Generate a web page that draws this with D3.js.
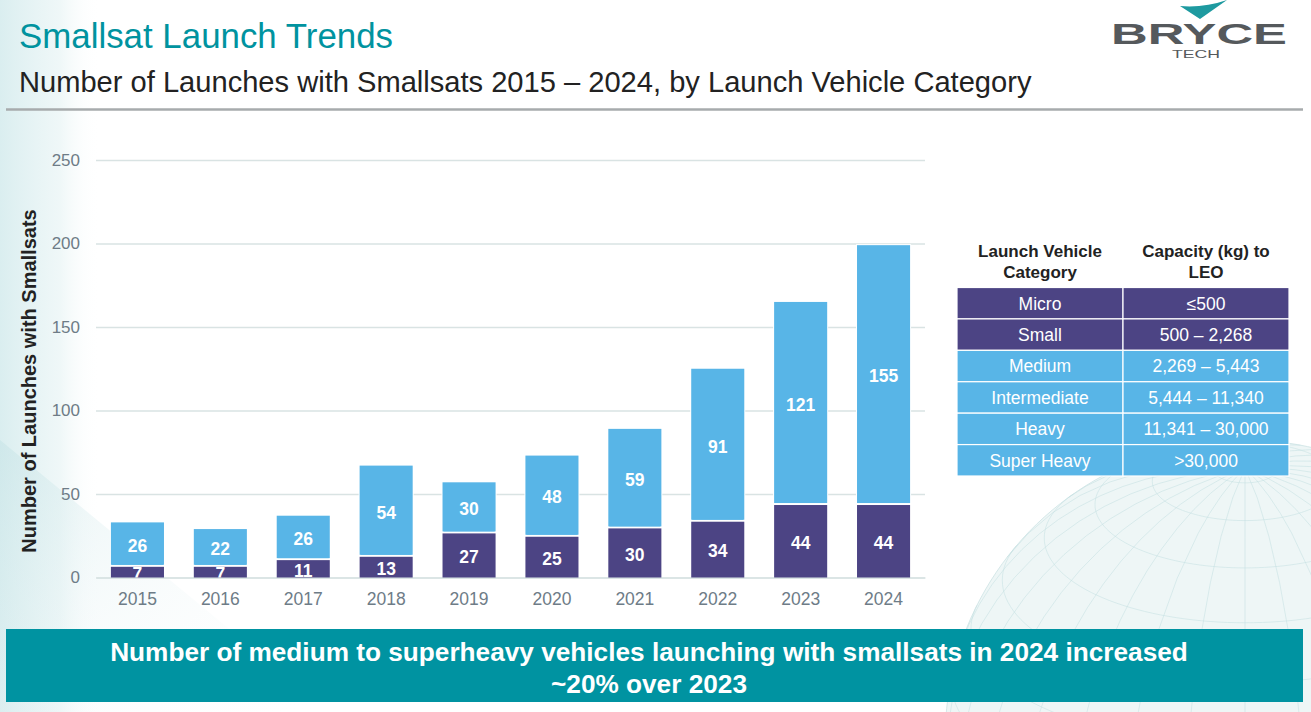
<!DOCTYPE html>
<html><head><meta charset="utf-8">
<script src="https://cdn.jsdelivr.net/npm/d3@7"></script>
<style>
html,body{margin:0;padding:0;background:#fff;overflow:hidden;}
svg{display:block;font-family:"Liberation Sans",Arial,sans-serif;}
</style></head>
<body>
<svg id="chart" width="1311" height="712"></svg>
<script>
// ---- data ----
const years = ["2015","2016","2017","2018","2019","2020","2021","2022","2023","2024"];
const microSmall = [7, 7, 11, 13, 27, 25, 30, 34, 44, 44];
const mediumPlus = [26, 22, 26, 54, 30, 48, 59, 91, 121, 155];
const yTicks = [0, 50, 100, 150, 200, 250];
const tableHeader = [["Launch Vehicle", "Category"], ["Capacity (kg) to", "LEO"]];
const tableCategories = ["Micro", "Small", "Medium", "Intermediate", "Heavy", "Super Heavy"];
const tableCapacities = ["≤500", "500 – 2,268", "2,269 – 5,443", "5,444 – 11,340", "11,341 – 30,000", ">30,000"];
const tableGroup = ["dark", "dark", "light", "light", "light", "light"];

const DARK = "#4C4484", LIGHT = "#58B5E7", TEAL = "#00939F";
const svg = d3.select("#chart");
const W = 1311, H = 712;

function fitWidth(sel, target) {
  const fs = +sel.attr("font-size");
  const w = sel.node().getComputedTextLength();
  sel.attr("font-size", fs * target / w);
}

// ---- background decoration ----
const defs = svg.append("defs");
const lg = defs.append("linearGradient").attr("id","leftg").attr("x1","0").attr("x2","1").attr("y1","0").attr("y2","0");
lg.append("stop").attr("offset","0").attr("stop-color","#d6ecee").attr("stop-opacity",0.9);
lg.append("stop").attr("offset","0.6").attr("stop-color","#e8f4f5").attr("stop-opacity",0.7);
lg.append("stop").attr("offset","1").attr("stop-color","#ffffff").attr("stop-opacity",0);
svg.append("rect").attr("x",0).attr("y",0).attr("width",100).attr("height",H).attr("fill","url(#leftg)");
const dg = defs.append("linearGradient").attr("id","diag").attr("x1","0").attr("x2","1").attr("y1","0").attr("y2","1");
dg.append("stop").attr("offset","0").attr("stop-color","#bfe0e3").attr("stop-opacity",0.6);
dg.append("stop").attr("offset","1").attr("stop-color","#ffffff").attr("stop-opacity",0);
svg.append("path").attr("d","M0,440 L0,712 L330,712 Z").attr("fill","url(#diag)").attr("opacity",0.7);

const proj = d3.geoOrthographic().scale(300).translate([1245, 740]).rotate([60,-25]);
const gpath = d3.geoPath(proj);
svg.append("path").datum({type:"Sphere"}).attr("d",gpath).attr("fill","#eef6f6").attr("stroke","#d5e8e9").attr("stroke-width",1);
svg.append("path").datum(d3.geoGraticule().step([12,12])()).attr("d",gpath).attr("fill","none").attr("stroke","#c6e0e2").attr("stroke-width",0.7).attr("opacity",0.8);

// ---- header ----
const t1 = svg.append("text").attr("x",19).attr("y",48).attr("fill",TEAL).attr("font-size",31).text("Smallsat Launch Trends");
fitWidth(t1, 374);
const t2 = svg.append("text").attr("x",19).attr("y",92).attr("fill","#222").attr("font-size",26)
  .text("Number of Launches with Smallsats 2015 – 2024, by Launch Vehicle Category");
fitWidth(t2, 1013);
svg.append("line").attr("x1",6).attr("x2",1303).attr("y1",109.5).attr("y2",109.5).attr("stroke","#A7ABAD").attr("stroke-width",2.5);

// logo
svg.append("path").attr("d","M1180,6 L1200,19 L1227,0 Q1204,8 1180,6 Z").attr("fill","#1E9AA0");
svg.append("text").attr("x",1111).attr("y",44).attr("font-size",29).attr("fill","#55595C").attr("font-weight","bold")
  .attr("textLength",176).attr("lengthAdjust","spacingAndGlyphs").text("BRYCE");
svg.append("text").attr("x",1172).attr("y",58).attr("font-size",10.5).attr("fill","#55595C")
  .attr("textLength",48).attr("lengthAdjust","spacingAndGlyphs").text("TECH");

// ---- chart ----
const x = d3.scaleBand().domain(years).range([96, 925]).paddingInner(0.36).paddingOuter(0.18);
const y = d3.scaleLinear().domain([0, 250]).range([577.5, 160]);

const gy = svg.append("g").attr("transform","translate(96,0)")
  .call(d3.axisLeft(y).tickValues(yTicks).tickSize(-(925-96)).tickPadding(16));
gy.select(".domain").remove();
gy.selectAll(".tick line").attr("stroke","#D9E3E3").attr("stroke-width",1.3);
gy.selectAll(".tick text").attr("fill","#6E7C87").attr("font-size",17).attr("font-family","Liberation Sans, Arial");

const gx = svg.append("g").attr("transform","translate(0,577.5)")
  .call(d3.axisBottom(x).tickSize(0).tickPadding(15));
gx.select(".domain").attr("stroke","#D9E3E3").attr("stroke-width",1.3);
gx.selectAll(".tick text").attr("fill","#6E7C87").attr("font-size",17.5).attr("font-family","Liberation Sans, Arial");

svg.append("text").attr("transform","translate(36,381) rotate(-90)").attr("text-anchor","middle")
  .attr("font-size",20).attr("font-weight","bold").attr("fill","#222").text("Number of Launches with Smallsats");

const rows = years.map((yr,i)=>({yr, i, a: microSmall[i], b: mediumPlus[i]}));
const bars = svg.append("g");
rows.forEach(d=>{
  const g = bars.append("g");
  defs.append("clipPath").attr("id","clipd"+d.i).append("rect")
    .attr("x",x(d.yr)).attr("width",x.bandwidth()).attr("y",y(d.a)+1).attr("height",y(0)-y(d.a)-1);
  g.append("rect").attr("x",x(d.yr)).attr("width",x.bandwidth())
    .attr("y",y(d.a)).attr("height",y(0)-y(d.a)).attr("fill",DARK);
  g.append("rect").attr("x",x(d.yr)).attr("width",x.bandwidth())
    .attr("y",y(d.a+d.b)).attr("height",y(d.a)-y(d.a+d.b)).attr("fill",LIGHT)
    .attr("stroke","#fff").attr("stroke-width",2);
  g.append("rect").attr("x",x(d.yr)).attr("width",x.bandwidth())
    .attr("y",y(d.a+d.b)).attr("height",y(d.a)-y(d.a+d.b)-1).attr("fill",LIGHT);
  g.append("text").attr("x",x(d.yr)+x.bandwidth()/2).attr("y",y(d.a/2)+2).attr("dy","0.36em")
    .attr("clip-path",`url(#clipd${d.i})`)
    .attr("text-anchor","middle").attr("fill","#fff").attr("font-weight","bold").attr("font-size",17.5).text(d.a);
  g.append("text").attr("x",x(d.yr)+x.bandwidth()/2).attr("y",y(d.a+d.b/2)+1.5).attr("dy","0.36em")
    .attr("text-anchor","middle").attr("fill","#fff").attr("font-weight","bold").attr("font-size",17.5).text(d.b);
});

// ---- table ----
const colX = [957, 1123, 1289];
const rowY = d3.scaleBand().domain(tableCategories).range([287.5, 476]);
const tg = svg.append("g");
tableHeader.forEach((lines,c)=>{
  lines.forEach((t,j)=>{
    tg.append("text").attr("x",(colX[c]+colX[c+1])/2).attr("y",257+j*21).attr("text-anchor","middle")
      .attr("font-size",17).attr("font-weight","bold").attr("fill","#222").text(t);
  });
});
tableCategories.forEach((cat,i)=>{
  const fill = tableGroup[i]==="dark" ? DARK : LIGHT;
  [cat, tableCapacities[i]].forEach((t,c)=>{
    tg.append("rect").attr("x",colX[c]).attr("y",rowY(cat)).attr("width",colX[c+1]-colX[c]).attr("height",rowY.bandwidth())
      .attr("fill",fill).attr("stroke","#fff").attr("stroke-width",1.2);
    tg.append("text").attr("x",(colX[c]+colX[c+1])/2).attr("y",rowY(cat)+rowY.bandwidth()/2).attr("dy","0.36em")
      .attr("text-anchor","middle").attr("font-size",17.5).attr("fill","#fff").text(t);
  });
});

// ---- banner ----
svg.append("rect").attr("x",6).attr("y",629).attr("width",1297).attr("height",73).attr("fill","#0093A1");
const bl1 = svg.append("text").attr("x",649).attr("y",661).attr("text-anchor","middle")
  .attr("font-weight","bold").attr("font-size",26).attr("fill","#fff")
  .text("Number of medium to superheavy vehicles launching with smallsats in 2024 increased");
fitWidth(bl1, 1078);
svg.append("text").attr("x",649).attr("y",693).attr("text-anchor","middle")
  .attr("font-weight","bold").attr("font-size",bl1.attr("font-size")).attr("fill","#fff").text("~20% over 2023");
</script>
</body></html>
